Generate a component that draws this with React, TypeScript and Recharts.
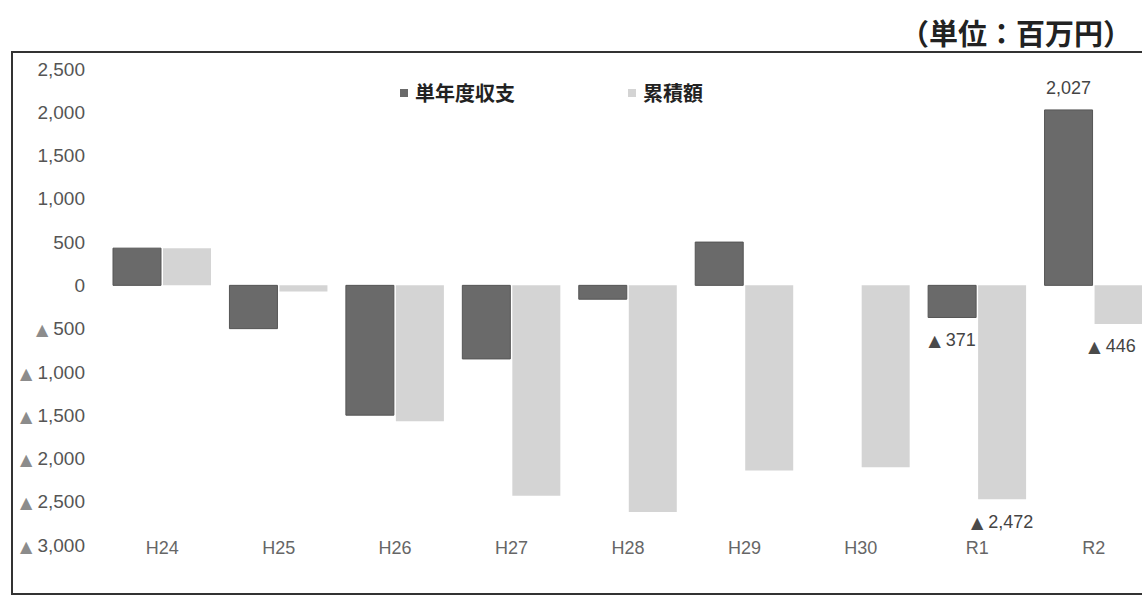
import { BarChart, Bar, XAxis, YAxis, Legend, LabelList } from "recharts";

const years = ["H24", "H25", "H26", "H27", "H28", "H29", "H30", "R1", "R2"];
const singleYear = [430, -500, -1500, -850, -160, 500, 0, -371, 2027];
const cumulative = [430, -70, -1570, -2430, -2620, -2140, -2101, -2472, -446];
const yTicks = [2500, 2000, 1500, 1000, 500, 0, -500, -1000, -1500, -2000, -2500, -3000];
const labeledYears = ["R1", "R2"];

const DARK = "#6a6a6a";
const LIGHT = "#d4d4d4";
const FONT = "'Liberation Sans', Arial, sans-serif";
const TRI = "'DejaVu Sans', sans-serif";
const JP = "'Noto Sans CJK JP', sans-serif";

const data = years.map((y, i) => ({ year: y, single: singleYear[i], total: cumulative[i] }));

const fmt = (v: number) => Math.abs(v).toLocaleString("en-US");

function YTick({ x, y, payload }: any) {
  const v = payload.value as number;
  return (
    <text x={x} y={y} dy="0.35em" textAnchor="end" fontSize={19} fontFamily={FONT} fill="#555">
      {v < 0 && (
        <tspan fill="#8c8c8c" fontFamily={TRI} fontSize={16}>
          ▲{" "}
        </tspan>
      )}
      {fmt(v)}
    </text>
  );
}

function XTick({ x, y, payload }: any) {
  return (
    <text x={x} y={y + 3} dy="0.35em" textAnchor="middle" fontSize={18} fontFamily={FONT} fill="#666">
      {payload.value}
    </text>
  );
}

function EndLabel({ x, y, width, height, value }: any) {
  if (value === null || value === undefined || value === "") return null;
  const v = Number(value);
  const top = Math.min(y, y + height);
  const bottom = Math.max(y, y + height);
  const ly = v < 0 ? bottom + 22 : top - 22;
  // keep the last label inside the picture
  const cx = Math.min(x + width / 2, 1112);
  return (
    <text x={cx} y={ly} dy="0.35em" textAnchor="middle" fontSize={18} fontFamily={FONT} fill="#444">
      {v < 0 && (
        <tspan fill="#4a4a4a" fontFamily={TRI} fontSize={16}>
          ▲{" "}
        </tspan>
      )}
      {fmt(v)}
    </text>
  );
}

function LegendBox() {
  const item = (color: string, text: string, left: number) => (
    <div style={{ position: "absolute", left, top: 0, display: "flex", alignItems: "center" }}>
      <span style={{ width: 8, height: 8, background: color, marginRight: 7 }} />
      <span style={{ fontFamily: JP, fontSize: 20, fontWeight: 700, color: "#222" }}>{text}</span>
    </div>
  );
  return (
    <div style={{ position: "relative", width: 400, height: 30 }}>
      {item(DARK, "単年度収支", 0)}
      {item(LIGHT, "累積額", 228)}
    </div>
  );
}

const labelOnly = (key: "single" | "total") => (d: any) =>
  labeledYears.includes(d.year) ? d[key] : null;

export default function App() {
  return (
    <div style={{ position: "absolute", left: 0, top: 0, width: 1142, height: 595, overflow: "hidden", background: "#fff" }}>
      <div
        style={{
          position: "absolute",
          right: 10,
          top: 13,
          fontFamily: JP,
          fontSize: 29,
          fontWeight: 700,
          color: "#222",
          lineHeight: "38px",
        }}
      >
        （単位：百万円）
      </div>
      <div
        style={{
          position: "absolute",
          left: 11,
          top: 51,
          width: 1200,
          height: 540,
          borderLeft: "2px solid #333",
          borderTop: "2px solid #333",
          borderBottom: "2px solid #333",
        }}
      />
      <div style={{ position: "absolute", left: 0, top: 0 }}>
        <BarChart
          width={1152}
          height={595}
          data={data}
          margin={{ top: 69, right: 0, bottom: 0, left: 0 }}
          barSize={48}
          barGap={2}
        >
          <XAxis
            dataKey="year"
            axisLine={false}
            tickLine={false}
            tickSize={0}
            tickMargin={0}
            height={50}
            tick={<XTick />}
            interval={0}
          />
          <YAxis
            type="number"
            domain={[-3000, 2500]}
            ticks={yTicks}
            interval={0}
            axisLine={false}
            tickLine={false}
            tickSize={0}
            tickMargin={19}
            width={104}
            tick={<YTick />}
          />
          <Legend
            layout="horizontal"
            align="center"
            verticalAlign="middle"
            content={() => <LegendBox />}
            wrapperStyle={{ position: "absolute", left: 400, top: 78, width: 400, height: 30 }}
          />
          <Bar dataKey="single" fill={DARK} stroke="#555" strokeWidth={1} isAnimationActive={false}>
            <LabelList dataKey={labelOnly("single")} content={<EndLabel />} />
          </Bar>
          <Bar dataKey="total" fill={LIGHT} isAnimationActive={false}>
            <LabelList dataKey={labelOnly("total")} content={<EndLabel />} />
          </Bar>
        </BarChart>
      </div>
    </div>
  );
}
